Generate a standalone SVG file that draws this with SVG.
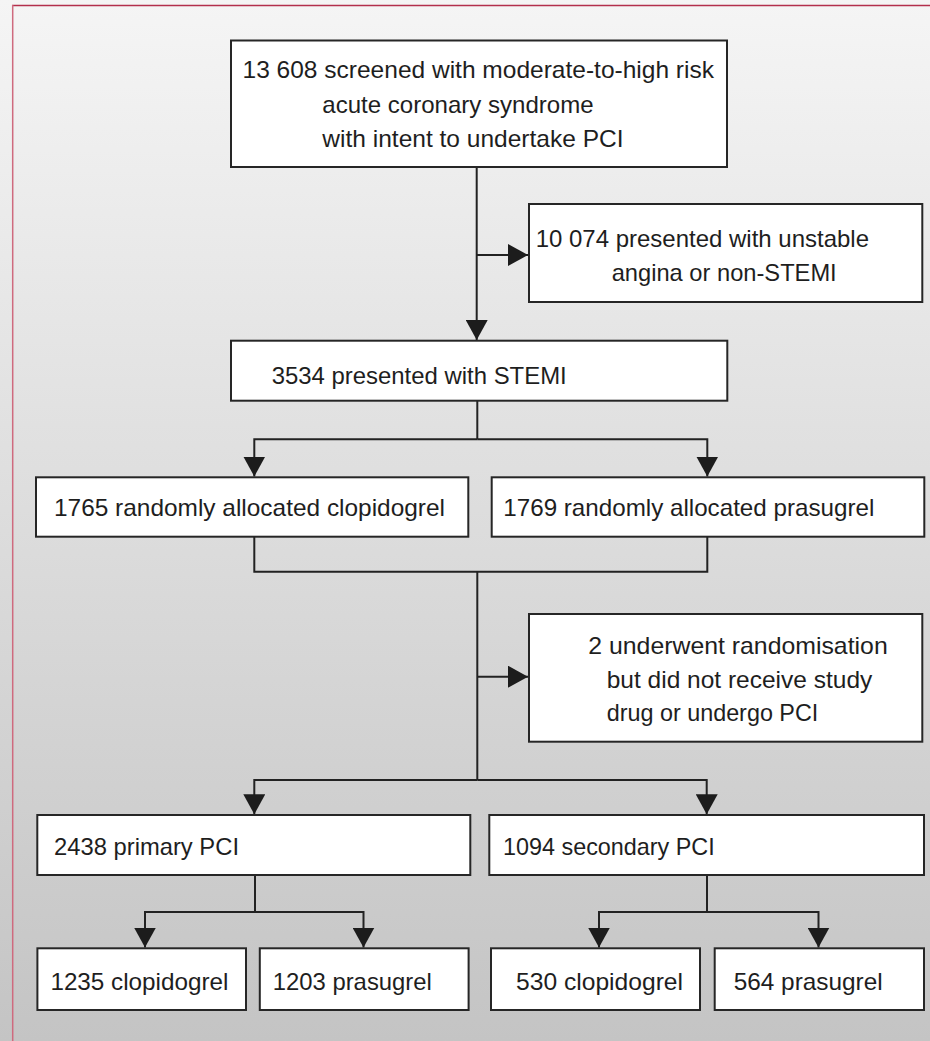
<svg xmlns="http://www.w3.org/2000/svg" width="930" height="1041" viewBox="0 0 930 1041">
<style>
.box{fill:#ffffff;stroke:#262626;stroke-width:2}
.lbl{font-family:"Liberation Sans",Arial,sans-serif;font-size:24px;fill:#1e1e1e}
.con{fill:none;stroke:#222222;stroke-width:2}
.arr{fill:none;stroke:#222222;stroke-width:2;marker-end:url(#ah)}
</style>
<defs>
<linearGradient id="bg" x1="0" y1="0" x2="0" y2="1">
<stop offset="0" stop-color="#f5f5f5"/>
<stop offset="1" stop-color="#c4c4c4"/>
</linearGradient>
<marker id="ah" viewBox="0 0 20 22" refX="20" refY="11" markerWidth="20" markerHeight="22" orient="auto" markerUnits="userSpaceOnUse">
<path d="M0,0 L20,11 L0,22 Z" fill="#1c1c1c"/>
</marker>
</defs>
<rect x="0" y="0" width="930" height="1041" fill="url(#bg)"/>
<line x1="12" y1="5.5" x2="930" y2="5.5" stroke="#b3304c" stroke-width="1.5"/>
<line x1="12.7" y1="5" x2="12.7" y2="1041" stroke="#cf6a7e" stroke-width="1.5"/>

<g id="connectors">
<path class="arr" d="M476.7,167 V340"/>
<path class="arr" d="M476.7,255 H528"/>
<path class="con" d="M477.3,400.7 V439.3"/>
<path class="arr" d="M477.3,439.3 H254.3 V476.5"/>
<path class="arr" d="M477.3,439.3 H707.3 V476.5"/>
<path class="con" d="M254.3,536.7 V571.7 H707.3 V536.7"/>
<path class="con" d="M477.3,571.7 V780"/>
<path class="arr" d="M477.3,676.7 H528"/>
<path class="arr" d="M477.3,780 H254.3 V814.3"/>
<path class="arr" d="M477.3,780 H706.7 V814.3"/>
<path class="con" d="M255,875 V912"/>
<path class="arr" d="M255,912 H145 V947.5"/>
<path class="arr" d="M255,912 H363.5 V947.5"/>
<path class="con" d="M707,875 V912"/>
<path class="arr" d="M707,912 H599 V947.5"/>
<path class="arr" d="M707,912 H818.5 V947.5"/>
</g>

<g id="screened">
<rect class="box" x="231" y="40.5" width="496" height="126.5"/>
<text class="lbl" x="242.5" y="78" textLength="471.5" lengthAdjust="spacingAndGlyphs">13 608 screened with moderate-to-high risk</text>
<text class="lbl" x="322.3" y="112.5" textLength="271.3" lengthAdjust="spacingAndGlyphs">acute coronary syndrome</text>
<text class="lbl" x="322.3" y="146.5" textLength="301.3" lengthAdjust="spacingAndGlyphs">with intent to undertake PCI</text>
</g>

<g id="unstable">
<rect class="box" x="529" y="204" width="393.3" height="98"/>
<text class="lbl" x="535.7" y="246.5" textLength="333.3" lengthAdjust="spacingAndGlyphs">10 074 presented with unstable</text>
<text class="lbl" x="611.7" y="280.5" textLength="225" lengthAdjust="spacingAndGlyphs">angina or non-STEMI</text>
</g>

<g id="stemi">
<rect class="box" x="231" y="340.7" width="496.3" height="60"/>
<text class="lbl" x="271.7" y="383.5" textLength="295" lengthAdjust="spacingAndGlyphs">3534 presented with STEMI</text>
</g>

<g id="alloc-clopidogrel">
<rect class="box" x="36" y="477.3" width="432.3" height="59.4"/>
<text class="lbl" x="54" y="515.7" textLength="391" lengthAdjust="spacingAndGlyphs">1765 randomly allocated clopidogrel</text>
</g>

<g id="alloc-prasugrel">
<rect class="box" x="491.7" y="477.3" width="432.6" height="59.4"/>
<text class="lbl" x="503.3" y="515.7" textLength="371" lengthAdjust="spacingAndGlyphs">1769 randomly allocated prasugrel</text>
</g>

<g id="excluded">
<rect class="box" x="529" y="614" width="393.3" height="127.7"/>
<text class="lbl" x="588.3" y="654" textLength="299.4" lengthAdjust="spacingAndGlyphs">2 underwent randomisation</text>
<text class="lbl" x="606.7" y="687.5" textLength="265.6" lengthAdjust="spacingAndGlyphs">but did not receive study</text>
<text class="lbl" x="606.7" y="720.5" textLength="211.6" lengthAdjust="spacingAndGlyphs">drug or undergo PCI</text>
</g>

<g id="primary">
<rect class="box" x="37.3" y="815" width="433" height="60"/>
<text class="lbl" x="54" y="855" textLength="185" lengthAdjust="spacingAndGlyphs">2438 primary PCI</text>
</g>

<g id="secondary">
<rect class="box" x="489.3" y="815" width="434.7" height="60"/>
<text class="lbl" x="503" y="855" textLength="211.7" lengthAdjust="spacingAndGlyphs">1094 secondary PCI</text>
</g>

<g id="primary-clopidogrel">
<rect class="box" x="37.4" y="948.3" width="208.6" height="61.7"/>
<text class="lbl" x="50.4" y="990" textLength="178" lengthAdjust="spacingAndGlyphs">1235 clopidogrel</text>
</g>

<g id="primary-prasugrel">
<rect class="box" x="259.8" y="948.3" width="208.8" height="61.7"/>
<text class="lbl" x="272.8" y="990" textLength="159" lengthAdjust="spacingAndGlyphs">1203 prasugrel</text>
</g>

<g id="secondary-clopidogrel">
<rect class="box" x="491" y="948.3" width="209" height="61.7"/>
<text class="lbl" x="516" y="990" textLength="167" lengthAdjust="spacingAndGlyphs">530 clopidogrel</text>
</g>

<g id="secondary-prasugrel">
<rect class="box" x="714.7" y="948.3" width="209.3" height="61.7"/>
<text class="lbl" x="733.7" y="990" textLength="149" lengthAdjust="spacingAndGlyphs">564 prasugrel</text>
</g>
</svg>
